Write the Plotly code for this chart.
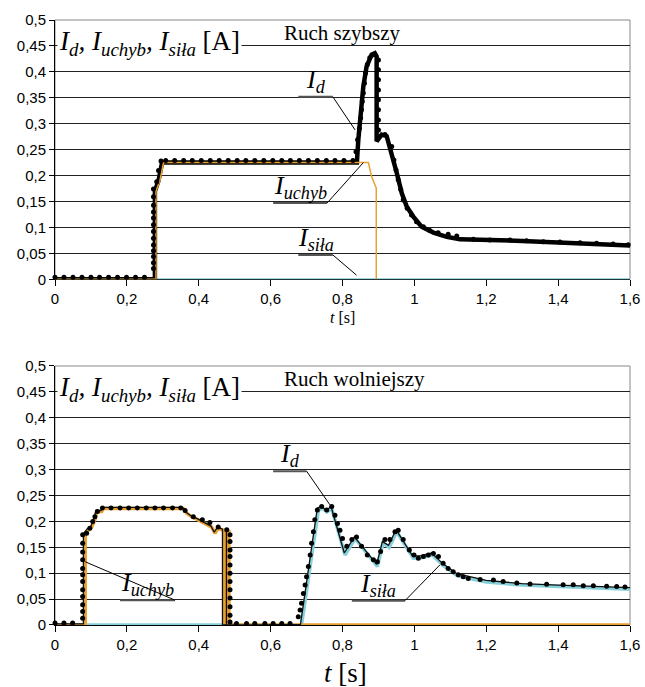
import plotly.graph_objects as go

# ---------------- data ----------------
ytick_vals = [0, 0.05, 0.1, 0.15, 0.2, 0.25, 0.3, 0.35, 0.4, 0.45, 0.5]
ytick_text = ["0", "0,05", "0,1", "0,15", "0,2", "0,25", "0,3", "0,35", "0,4", "0,45", "0,5"]
xtick_vals = [0, 0.2, 0.4, 0.6, 0.8, 1.0, 1.2, 1.4, 1.6]
xtick_text = ["0", "0,2", "0,4", "0,6", "0,8", "1", "1,2", "1,4", "1,6"]

# --- Ruch szybszy (top) ---
fast_id_t = [0, 0.278, 0.278, 0.288, 0.298, 0.84, 0.844, 0.849, 0.858, 0.867, 0.881, 0.89, 0.895, 0.895,
             0.909, 0.923, 0.937, 0.951, 0.965, 0.979, 0.997, 1.02, 1.053, 1.09, 1.127, 1.2, 1.3, 1.4, 1.5, 1.6]
fast_id_v = [0, 0, 0.17, 0.19, 0.225, 0.225, 0.269, 0.314, 0.372, 0.41, 0.433, 0.436, 0.43, 0.266,
             0.279, 0.276, 0.243, 0.205, 0.166, 0.14, 0.121, 0.1015, 0.09, 0.082, 0.077, 0.076, 0.074, 0.071, 0.068, 0.065]

fast_uchyb_t = [0, 0.281, 0.281, 0.292, 0.302, 0.872, 0.881, 0.893, 0.894, 0.894]
fast_uchyb_v = [0, 0, 0.17, 0.19, 0.225, 0.225, 0.198, 0.176, 0.176, 0]

fast_sila_t = [0, 1.6]
fast_sila_v = [0, 0]

fast_dot_t = [0, 0.025, 0.05, 0.075, 0.1, 0.124, 0.149, 0.174, 0.199, 0.224, 0.249,
              0.274, 0.274, 0.274, 0.274, 0.274, 0.274, 0.274, 0.274, 0.274, 0.274, 0.274, 0.274, 0.274,
              0.283, 0.288, 0.295,
              0.308, 0.333, 0.358, 0.382, 0.407, 0.432, 0.457, 0.482, 0.507, 0.531, 0.556, 0.581,
              0.606, 0.631, 0.655, 0.68, 0.705, 0.73, 0.755, 0.779, 0.804, 0.829,
              0.8375, 0.842, 0.847, 0.8505, 0.853, 0.855, 0.858, 0.861, 0.864, 0.869, 0.876, 0.886,
              0.9, 0.9, 0.9, 0.9, 0.9, 0.9, 0.9, 0.9,
              0.918, 0.937, 0.943, 0.949, 0.955, 0.962, 0.969, 0.98, 0.992, 1.006, 1.025, 1.043, 1.066,
              1.094, 1.118, 1.164, 1.21, 1.266, 1.312, 1.359, 1.405, 1.461, 1.507, 1.553, 1.595]
fast_dot_v = [0.004, 0.004, 0.004, 0.004, 0.004, 0.004, 0.004, 0.004, 0.004, 0.004, 0.004,
              0.021, 0.032, 0.044, 0.055, 0.066, 0.079, 0.092, 0.105, 0.118, 0.13, 0.143, 0.159, 0.174,
              0.188, 0.21, 0.228,
              0.229, 0.229, 0.229, 0.229, 0.229, 0.229, 0.229, 0.229, 0.229, 0.229, 0.229, 0.229,
              0.229, 0.229, 0.229, 0.229, 0.229, 0.229, 0.229, 0.229, 0.229, 0.229,
              0.246, 0.269, 0.291, 0.311, 0.327, 0.343, 0.359, 0.378, 0.398, 0.414, 0.427, 0.433,
              0.423, 0.404, 0.385, 0.365, 0.346, 0.327, 0.307, 0.288,
              0.279, 0.256, 0.23, 0.211, 0.192, 0.173, 0.153, 0.137, 0.124, 0.111, 0.1015, 0.094, 0.09,
              0.087, 0.0836, 0.077, 0.076, 0.076, 0.0745, 0.0726, 0.072, 0.0707, 0.0695, 0.068, 0.0668]

# --- Ruch wolniejszy (bottom) ---
slow_uchyb_t = [0, 0.084, 0.084, 0.093, 0.102, 0.111, 0.116, 0.13, 0.134, 0.357, 0.366, 0.38, 0.399,
                0.417, 0.422, 0.436, 0.445, 0.454, 0.468, 0.471, 0.471, 0.481, 0.481, 0.484, 0.484, 1.6]
slow_uchyb_v = [0, 0, 0.174, 0.183, 0.189, 0.203, 0.219, 0.219, 0.225, 0.225, 0.216, 0.209, 0.203,
                0.196, 0.193, 0.189, 0.177, 0.187, 0.183, 0.183, 0, 0, 0.18, 0.18, 0, 0]

slow_sila_t = [0, 0.686, 0.733, 0.745, 0.757, 0.77, 0.807, 0.835, 0.897, 0.913, 0.93, 0.951, 0.997,
               1.02, 1.05, 1.08, 1.12, 1.2, 1.3, 1.4, 1.5, 1.6]
slow_sila_v = [0, 0, 0.222, 0.225, 0.218, 0.225, 0.135, 0.167, 0.113, 0.158, 0.15, 0.18, 0.129,
               0.13, 0.135, 0.115, 0.095, 0.083, 0.077, 0.074, 0.072, 0.069]

slow_id_t = [0, 0.079, 0.079, 0.09, 0.1, 0.108, 0.114, 0.128, 0.132, 0.355, 0.364, 0.378, 0.397, 0.415,
             0.42, 0.434, 0.443, 0.452, 0.466, 0.466, 0.477, 0.477, 0.477, 0.683, 0.73, 0.742, 0.755,
             0.768, 0.805, 0.833, 0.895, 0.911, 0.928, 0.949, 0.995, 1.018, 1.048, 1.078, 1.118, 1.2,
             1.3, 1.4, 1.5, 1.6]
slow_id_v = [0.002, 0.002, 0.176, 0.186, 0.191, 0.205, 0.221, 0.221, 0.227, 0.227, 0.218, 0.211, 0.205,
             0.198, 0.195, 0.191, 0.179, 0.189, 0.185, 0, 0, 0.18, 0, 0.001, 0.226, 0.229, 0.221,
             0.229, 0.139, 0.17, 0.117, 0.161, 0.154, 0.184, 0.133, 0.134, 0.139, 0.119, 0.099, 0.086,
             0.08, 0.077, 0.075, 0.072]

slow_dot_t = [0, 0.025, 0.049,
              0.077, 0.077, 0.077, 0.077, 0.077, 0.077, 0.077, 0.077, 0.077, 0.077, 0.077, 0.077,
              0.088, 0.097, 0.105, 0.111, 0.118, 0.132,
              0.156, 0.181, 0.205, 0.229, 0.254, 0.278, 0.302, 0.327, 0.35,
              0.362, 0.385, 0.41, 0.431, 0.454, 0.478,
              0.487, 0.487, 0.487, 0.487, 0.487, 0.487, 0.487, 0.487, 0.487, 0.487, 0.487, 0.487,
              0.505, 0.533, 0.556, 0.584, 0.607, 0.631, 0.654,
              0.677, 0.682, 0.686, 0.691, 0.696, 0.7, 0.705, 0.71, 0.714, 0.719, 0.723, 0.73, 0.742,
              0.756, 0.77, 0.779, 0.786, 0.793, 0.8, 0.812, 0.826, 0.839, 0.853, 0.869, 0.886, 0.897,
              0.906, 0.918, 0.932, 0.946, 0.955, 0.969, 0.986, 0.999, 1.011, 1.025, 1.039, 1.053,
              1.067, 1.08, 1.094, 1.108, 1.122, 1.136, 1.15, 1.183, 1.22, 1.247, 1.285, 1.322, 1.368,
              1.414, 1.442, 1.47, 1.498, 1.535, 1.563, 1.586]
slow_dot_v = [0.004, 0.004, 0.004,
              0.013, 0.026, 0.039, 0.055, 0.068, 0.084, 0.097, 0.109, 0.126, 0.141, 0.158, 0.174,
              0.177, 0.187, 0.2, 0.209, 0.219, 0.226,
              0.226, 0.226, 0.226, 0.226, 0.226, 0.226, 0.226, 0.226, 0.226,
              0.221, 0.209, 0.203, 0.198, 0.189, 0.184,
              0.174, 0.161, 0.145, 0.132, 0.116, 0.1, 0.084, 0.068, 0.052, 0.035, 0.019, 0.006,
              0.003, 0.003, 0.003, 0.003, 0.003, 0.003, 0.003,
              0.016, 0.029, 0.042, 0.061, 0.077, 0.093, 0.113, 0.135, 0.158, 0.18, 0.203, 0.222, 0.229,
              0.222, 0.229, 0.212, 0.196, 0.183, 0.167, 0.152, 0.165, 0.17, 0.152, 0.135, 0.126, 0.122,
              0.142, 0.165, 0.165, 0.18, 0.183, 0.165, 0.145, 0.135, 0.129, 0.132, 0.135, 0.138,
              0.132, 0.119, 0.109, 0.103, 0.097, 0.093, 0.09, 0.088, 0.087, 0.084, 0.081, 0.079, 0.0785,
              0.0778, 0.0775, 0.076, 0.0759, 0.0746, 0.0745, 0.0733]

# callout labels: (text, subplot, underline start t, underline end t, level, pointer t, pointer v)
callouts = [
    ("<i>I<sub>d</sub></i>", 1, 0.677, 0.773, 0.352, 0.835, 0.288),
    ("<i>I<sub>uchyb</sub></i>", 1, 0.607, 0.757, 0.147, 0.858, 0.225),
    ("<i>I<sub>siła</sub></i>", 1, 0.677, 0.773, 0.047, 0.839, 0.008),
    ("<i>I<sub>d</sub></i>", 2, 0.607, 0.7, 0.297, 0.765, 0.232),
    ("<i>I<sub>uchyb</sub></i>", 2, 0.181, 0.334, 0.048, 0.084, 0.122),
    ("<i>I<sub>siła</sub></i>", 2, 0.826, 0.974, 0.047, 1.071, 0.116),
]

ORANGE = "#E8A030"
CYAN = "#86D0DA"

fig = go.Figure()

# top
fig.add_trace(go.Scatter(x=fast_sila_t, y=fast_sila_v, mode="lines", line=dict(color=CYAN, width=2),
                         xaxis="x", yaxis="y"))
fig.add_trace(go.Scatter(x=fast_id_t, y=fast_id_v, mode="lines", line=dict(color="black", width=4.5),
                         xaxis="x", yaxis="y"))
fig.add_trace(go.Scatter(x=fast_uchyb_t, y=fast_uchyb_v, mode="lines", line=dict(color=ORANGE, width=1.5),
                         xaxis="x", yaxis="y"))
fig.add_trace(go.Scatter(x=fast_dot_t, y=fast_dot_v, mode="markers", marker=dict(color="black", size=5),
                         xaxis="x", yaxis="y", cliponaxis=False))
# bottom
fig.add_trace(go.Scatter(x=slow_sila_t, y=slow_sila_v, mode="lines", line=dict(color=CYAN, width=3.5),
                         xaxis="x2", yaxis="y2", cliponaxis=False))
fig.add_trace(go.Scatter(x=slow_uchyb_t, y=slow_uchyb_v, mode="lines", line=dict(color=ORANGE, width=3.5),
                         xaxis="x2", yaxis="y2", cliponaxis=False))
fig.add_trace(go.Scatter(x=slow_id_t, y=slow_id_v, mode="lines", line=dict(color="#111111", width=1.3),
                         xaxis="x2", yaxis="y2", cliponaxis=False))
fig.add_trace(go.Scatter(x=slow_dot_t, y=slow_dot_v, mode="markers", marker=dict(color="black", size=5),
                         xaxis="x2", yaxis="y2", cliponaxis=False))

tickfont = dict(family="Liberation Sans, Arial", size=15, color="black")
serif = "Liberation Serif, Times New Roman"

def xax(anchor):
    return dict(range=[0, 1.6], tickvals=xtick_vals, ticktext=xtick_text, ticks="outside", ticklen=6,
                tickcolor="black", showline=True, linecolor="black", linewidth=1, showgrid=False,
                zeroline=False, tickfont=tickfont, anchor=anchor, domain=[0, 1], layer="below traces",
                automargin=False)

def yax(anchor, dom):
    return dict(range=[0, 0.5], tickvals=ytick_vals, ticktext=ytick_text, ticks="outside", ticklen=5,
                tickcolor="black", showline=True, linecolor="black", linewidth=1, showgrid=True,
                gridcolor="#222222", gridwidth=1, zeroline=False, tickfont=tickfont, anchor=anchor,
                domain=dom, layer="below traces", automargin=False)

shapes = []
for xr, yr in (("x domain", "y domain"), ("x2 domain", "y2 domain")):
    shapes.append(dict(type="rect", xref=xr, yref=yr, x0=0, x1=1, y0=0, y1=1,
                       line=dict(color="#888888", width=1), layer="below"))

annotations = []
for text, sp, u0, u1, lvl, pt, pv in callouts:
    xr = "x" if sp == 1 else "x2"
    yr = "y" if sp == 1 else "y2"
    shapes.append(dict(type="line", xref=xr, yref=yr, x0=u0, x1=u1, y0=lvl, y1=lvl,
                       line=dict(color="#555555", width=2)))
    shapes.append(dict(type="line", xref=xr, yref=yr, x0=u1, x1=pt, y0=lvl, y1=pv,
                       line=dict(color="black", width=1)))
    annotations.append(dict(text=text, xref=xr, yref=yr, x=(u0 + u1) / 2, y=lvl, xanchor="center",
                            yanchor="bottom", showarrow=False, yshift=-2,
                            font=dict(family=serif, size=26, color="black")))

title_txt = "<i>I<sub>d</sub>, I<sub>uchyb</sub>, I<sub>siła</sub></i> [A]"
for yr, mode in (("y domain", "Ruch szybszy"), ("y2 domain", "Ruch wolniejszy")):
    xr = "x domain" if yr == "y domain" else "x2 domain"
    annotations.append(dict(text=title_txt, xref=xr, yref=yr, x=0.004, y=0.91, xanchor="left",
                            yanchor="middle", showarrow=False, bgcolor="white",
                            font=dict(family=serif, size=27, color="black")))
    annotations.append(dict(text=mode, xref=xr, yref=yr, x=0.395, y=0.9, xanchor="left",
                            yanchor="bottom", showarrow=False, yshift=-1,
                            font=dict(family=serif, size=21, color="black")))

annotations.append(dict(text="<i>t</i> [s]", xref="paper", yref="paper", x=0.5, y=0.508,
                        xanchor="center", yanchor="middle", showarrow=False,
                        font=dict(family=serif, size=16, color="black")))
annotations.append(dict(text="<i>t</i> [s]", xref="paper", yref="paper", x=0.505, y=-0.08,
                        xanchor="center", yanchor="middle", showarrow=False,
                        font=dict(family=serif, size=27, color="black")))

fig.update_layout(
    width=645, height=687, margin=dict(l=55, r=15, t=20, b=62, autoexpand=False),
    paper_bgcolor="white", plot_bgcolor="white", showlegend=False,
    xaxis=xax("y"), yaxis=yax("x", [0.5714, 1.0]),
    xaxis2=xax("y2"), yaxis2=yax("x2", [0, 0.4281]),
    shapes=shapes, annotations=annotations,
)

fig.write_html("out.html", config={"displayModeBar": False},
               post_script="document.body.style.margin='0';document.body.style.overflow='hidden';")
